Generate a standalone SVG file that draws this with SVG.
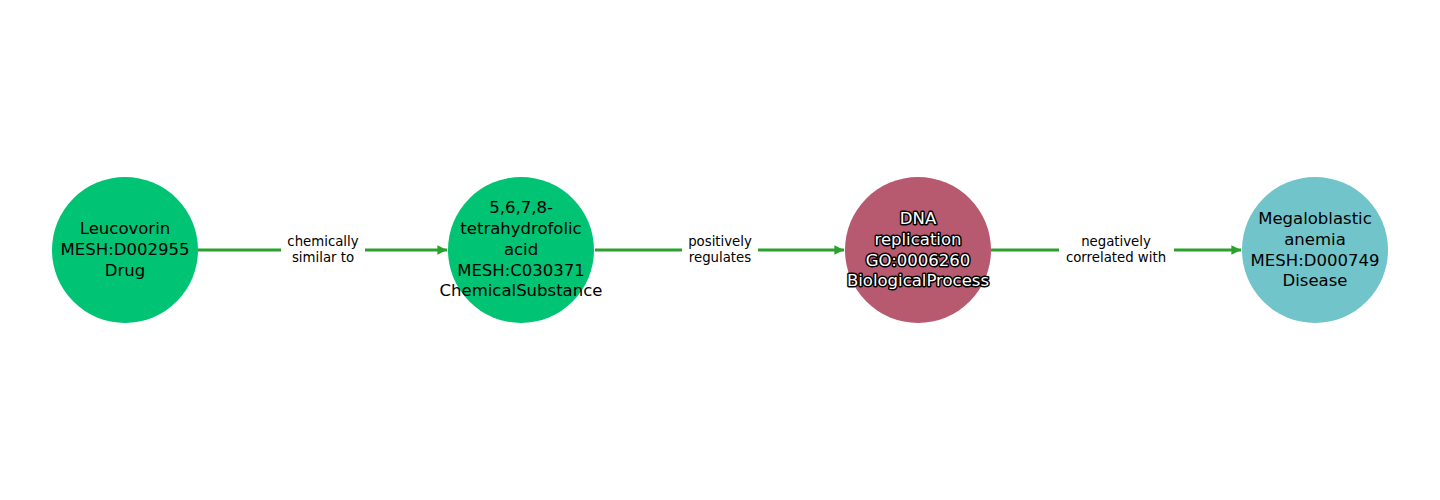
<svg xmlns="http://www.w3.org/2000/svg" width="1440" height="500" viewBox="0 0 1440 500">
<style>
.node text{font-family:"DejaVu Sans",sans-serif;font-size:16.5px;text-anchor:middle;fill:#000}
.node text.out{fill:#fff;stroke:#000;stroke-width:3;paint-order:stroke;stroke-linejoin:round}
.edge{stroke:#2ca02c;stroke-width:3;fill:none}
.elabel{font-family:"DejaVu Sans",sans-serif;font-size:13.3px;text-anchor:middle;fill:#000}
</style>
<defs>
<marker id="arr" viewBox="0 0 10 10" refX="10" refY="5" markerWidth="3.2" markerHeight="3.2" orient="auto" markerUnits="strokeWidth">
<path d="M0,0 L10,5 L0,10 z" fill="#2ca02c"/>
</marker>
</defs>
<rect width="1440" height="500" fill="#fff"/>
<g id="connectors">
<line class="edge" x1="198" y1="250" x2="447" y2="250" marker-end="url(#arr)"/>
<line class="edge" x1="595" y1="250" x2="844" y2="250" marker-end="url(#arr)"/>
<line class="edge" x1="991" y1="250" x2="1241" y2="250" marker-end="url(#arr)"/>
<rect x="281" y="230" width="84" height="38" fill="#fff"/>
<text class="elabel" x="323" y="246">chemically</text>
<text class="elabel" x="323" y="262">similar to</text>
<rect x="682" y="230" width="76" height="38" fill="#fff"/>
<text class="elabel" x="720" y="246">positively</text>
<text class="elabel" x="720" y="262">regulates</text>
<rect x="1059" y="230" width="115" height="38" fill="#fff"/>
<text class="elabel" x="1116" y="246">negatively</text>
<text class="elabel" x="1116" y="262">correlated with</text>
</g>
<g id="n1" class="node">
<circle cx="125" cy="250" r="73" fill="#00c373"/>
<text x="125" y="234">Leucovorin</text>
<text x="125" y="255">MESH:D002955</text>
<text x="125" y="275.5">Drug</text>
</g>
<g id="n2" class="node">
<circle cx="521" cy="250" r="73" fill="#00c373"/>
<text x="521" y="213">5,6,7,8-</text>
<text x="521" y="234">tetrahydrofolic</text>
<text x="521" y="255">acid</text>
<text x="521" y="275.5">MESH:C030371</text>
<text x="521" y="296">ChemicalSubstance</text>
</g>
<g id="n3" class="node">
<circle cx="918" cy="250" r="73" fill="#b75a70"/>
<text class="out" x="918" y="224">DNA</text>
<text class="out" x="918" y="245">replication</text>
<text class="out" x="918" y="265.5">GO:0006260</text>
<text class="out" x="918" y="286">BiologicalProcess</text>
</g>
<g id="n4" class="node">
<circle cx="1315" cy="250" r="73" fill="#70c4ca"/>
<text x="1315" y="224">Megaloblastic</text>
<text x="1315" y="245">anemia</text>
<text x="1315" y="265.5">MESH:D000749</text>
<text x="1315" y="286">Disease</text>
</g>
</svg>
